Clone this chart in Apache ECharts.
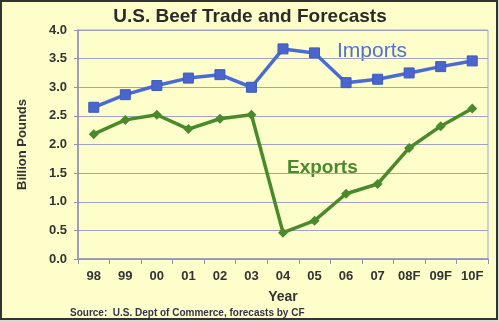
<!DOCTYPE html>
<html><head><meta charset="utf-8">
<script src="https://cdn.jsdelivr.net/npm/echarts@6/dist/echarts.min.js"></script>
<style>html,body{margin:0;padding:0;background:#d8d8d0}#c{width:500px;height:322px}</style>
</head><body><div id="c"></div>
<script>
var categories = ['98','99','00','01','02','03','04','05','06','07','08F','09F','10F'];
var imports = [2.65, 2.87, 3.03, 3.16, 3.22, 3.0, 3.67, 3.60, 3.08, 3.14, 3.25, 3.36, 3.46];
var exports_ = [2.18, 2.43, 2.52, 2.27, 2.45, 2.52, 0.46, 0.67, 1.14, 1.31, 1.94, 2.32, 2.63];
var yTicks = ['0.0','0.5','1.0','1.5','2.0','2.5','3.0','3.5','4.0'];

var chart = echarts.init(document.getElementById('c'));
var txt = '#333333';
var ff = 'Arial, Liberation Sans, sans-serif';
chart.setOption({
  backgroundColor: '#d8d8d0',
  graphic: [
    {type:'rect', shape:{x:1,y:1,width:496,height:318}, style:{fill:'#fefecb', stroke:'#333', lineWidth:2}, z:-10},
    {type:'text', left:'center', top:7, style:{text:'U.S. Beef Trade and Forecasts', font:'bold 19px ' + ff, fill:'#2b2b2b'}},
    {type:'text', left:70, top:308, style:{text:'Source:  U.S. Dept of Commerce, forecasts by CF', font:'bold 10px ' + ff, fill:'#33334a'}},
    {type:'text', left:337, top:41, style:{text:'Imports', font:'21px ' + ff, fill:'#5070d4'}},
    {type:'text', left:287, top:158, style:{text:'Exports', font:'bold 19px ' + ff, fill:'#4a8a2c'}}
  ],
  grid: {left:78, right:12, top:30, bottom:63, show:true, borderColor:'#a0a0d0', borderWidth:1},
  xAxis: {
    type:'category', data:categories, boundaryGap:true,
    name:'Year', nameLocation:'middle', nameGap:31,
    nameTextStyle:{color:txt, fontWeight:'bold', fontSize:14, fontFamily:ff},
    axisLine:{lineStyle:{color:'#9090b8', width:1.5}},
    axisTick:{show:true, length:5, lineStyle:{color:'#9090b8'}},
    axisLabel:{color:txt, fontWeight:'bold', fontSize:13, margin:11, fontFamily:ff}
  },
  yAxis: {
    type:'value', min:0, max:4, interval:0.5,
    name:'Billion Pounds', nameLocation:'middle', nameGap:49, nameRotate:90,
    nameTextStyle:{color:txt, fontWeight:'bold', fontSize:13, fontFamily:ff},
    axisLine:{show:true, lineStyle:{color:'#9090b8', width:1.5}},
    axisTick:{show:true, length:4, inside:false, lineStyle:{color:'#9090b8'}},
    axisLabel:{color:txt, fontWeight:'bold', fontSize:13, margin:11, fontFamily:ff,
      formatter:function(v){ return yTicks[Math.round(v/0.5)]; }},
    splitLine:{lineStyle:{color:'#a0a0c8', width:1}}
  },
  series: [
    {name:'Imports', type:'line', data:imports, symbol:'rect', symbolSize:10,
     lineStyle:{color:'#4a6ad8', width:3.5}, itemStyle:{color:'#4a66cc', borderColor:'#3d5ac0', borderWidth:1}},
    {name:'Exports', type:'line', data:exports_, symbol:'diamond', symbolSize:10,
     lineStyle:{color:'#4a8a2c', width:3.5}, itemStyle:{color:'#4a8a2c'}}
  ]
});
</script></body></html>
